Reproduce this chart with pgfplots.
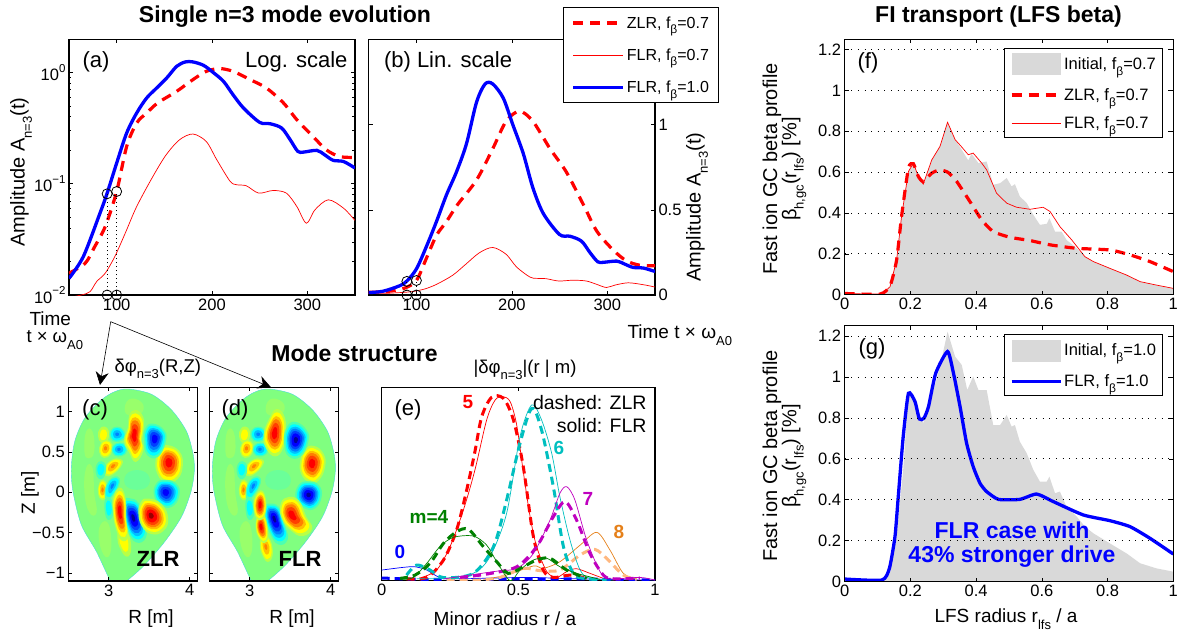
\documentclass[border=0pt]{standalone}
\usepackage{pgfplots}
\usepackage{pgfplotstable}
\pgfplotsset{compat=1.18}
\usepackage{fontspec}
\setmainfont{Liberation Sans}
\usetikzlibrary{arrows.meta}
\newcommand{\fs}[1]{\fontsize{#1}{#1}\selectfont}
\newcommand{\sub}[2][12]{\raisebox{-.36em}{\fs{#1}#2}}
\newcommand{\spw}[1]{\raisebox{.5em}{\fs{11.5}#1}}
\definecolor{gc}{rgb}{.85,.85,.85}
\definecolor{h1}{rgb}{.72,1,.28}\definecolor{h2}{rgb}{1,1,0}\definecolor{h3}{rgb}{1,.75,0}
\definecolor{h4}{rgb}{1,.5,0}\definecolor{h5}{rgb}{1,.25,0}\definecolor{h6}{rgb}{1,0,0}\definecolor{h7}{rgb}{.6,0,0}
\definecolor{c1}{rgb}{.3,1,.7}\definecolor{c2}{rgb}{0,1,1}\definecolor{c3}{rgb}{0,.75,1}
\definecolor{c4}{rgb}{0,.5,1}\definecolor{c5}{rgb}{0,.25,1}\definecolor{c6}{rgb}{0,0,1}\definecolor{c7}{rgb}{0,0,.6}
\definecolor{bgj}{rgb}{.5,1,.5}\definecolor{cy}{rgb}{0,.75,.75}\definecolor{pu}{rgb}{.75,0,.75}
\definecolor{fh}{rgb}{.6,1,.42}\definecolor{fc}{rgb}{.42,1,.6}\definecolor{edge}{rgb}{.3,.85,.85}
\definecolor{gr}{rgb}{0,.5,0}\definecolor{ors}{rgb}{.9,.5,.1}\definecolor{ord}{rgb}{1,.72,.5}
% one contour level of a blob: colour, scale, centre R, centre Z, contour
\newcommand{\lev}[5]{\addplot[draw=none,fill=#1,smooth cycle,tension=.8,
  x filter/.expression={#3+#2*(x-(#3))},y filter/.expression={#4+#2*(y-(#4))}] coordinates {#5};}
\newcommand{\hotX}[3]{\lev{h1}{1.16}{#1}{#2}{#3}\lev{h2}{1}{#1}{#2}{#3}\lev{h3}{.85}{#1}{#2}{#3}\lev{h4}{.72}{#1}{#2}{#3}\lev{h5}{.58}{#1}{#2}{#3}\lev{h6}{.42}{#1}{#2}{#3}\lev{h7}{.2}{#1}{#2}{#3}}
\newcommand{\hotL}[3]{\lev{h1}{1.16}{#1}{#2}{#3}\lev{h2}{1}{#1}{#2}{#3}\lev{h3}{.82}{#1}{#2}{#3}\lev{h4}{.68}{#1}{#2}{#3}\lev{h5}{.5}{#1}{#2}{#3}\lev{h6}{.3}{#1}{#2}{#3}}
\newcommand{\hotM}[3]{\lev{h1}{1.16}{#1}{#2}{#3}\lev{h2}{.95}{#1}{#2}{#3}\lev{h3}{.62}{#1}{#2}{#3}\lev{h4}{.28}{#1}{#2}{#3}}
\newcommand{\hotS}[3]{\lev{h1}{1.16}{#1}{#2}{#3}\lev{h2}{.75}{#1}{#2}{#3}}
\newcommand{\colX}[3]{\lev{c1}{1.16}{#1}{#2}{#3}\lev{c2}{1}{#1}{#2}{#3}\lev{c3}{.85}{#1}{#2}{#3}\lev{c4}{.72}{#1}{#2}{#3}\lev{c5}{.58}{#1}{#2}{#3}\lev{c6}{.42}{#1}{#2}{#3}\lev{c7}{.2}{#1}{#2}{#3}}
\newcommand{\colL}[3]{\lev{c1}{1.16}{#1}{#2}{#3}\lev{c2}{1}{#1}{#2}{#3}\lev{c3}{.82}{#1}{#2}{#3}\lev{c4}{.68}{#1}{#2}{#3}\lev{c5}{.5}{#1}{#2}{#3}\lev{c6}{.3}{#1}{#2}{#3}}
\newcommand{\colM}[3]{\lev{c1}{1.16}{#1}{#2}{#3}\lev{c2}{.95}{#1}{#2}{#3}\lev{c3}{.62}{#1}{#2}{#3}\lev{c4}{.28}{#1}{#2}{#3}}
\newcommand{\colS}[3]{\lev{c1}{1.16}{#1}{#2}{#3}\lev{c2}{.75}{#1}{#2}{#3}}
\newcommand{\vessel}{\addplot[draw=edge,line width=.4pt,fill=bgj,smooth cycle,tension=.5] coordinates {
 (3.240,1.279)(3.529,1.213)(3.777,1.019)(3.963,.751)(4.045,.462)(4.058,.256)(4.017,.008)(3.901,-.301)(3.694,-.610)(3.446,-.899)(3.240,-1.085)(3.085,-1.2)(3.012,-1.085)(2.847,-.734)(2.661,-.404)(2.558,.008)(2.537,.297)(2.579,.627)(2.702,.916)(2.909,1.143)(3.074,1.246)};}
% faint structure and the small inner blobs common to (c) and (d)
\newcommand{\faint}{%
 \lev{fh}{1}{3.3}{1.05}{(3.25,1.15)(3.4,1.12)(3.42,1.0)(3.3,.95)(3.2,1.0)}
 \lev{fh}{1}{2.75}{.05}{(2.72,.3)(2.8,.3)(2.82,0)(2.85,-.25)(2.76,-.25)(2.7,0)}
 \lev{fh}{1}{2.95}{-.55}{(2.9,-.4)(3.0,-.4)(3.03,-.7)(2.96,-.8)(2.88,-.6)}
 \lev{fc}{1}{3.35}{.15}{(3.25,.25)(3.45,.25)(3.5,.1)(3.35,.03)(3.2,.1)}
 \lev{fh}{1}{2.75}{.6}{(2.72,.75)(2.8,.75)(2.82,.5)(2.75,.42)(2.7,.5)}
}
\newcommand{\blobsShared}{%
 \hotS{2.930}{.709}{(2.942,.800)(2.992,.751)(2.975,.648)(2.909,.627)(2.876,.701)(2.893,.771)}
 \hotM{2.959}{.545}{(2.971,.635)(3.033,.586)(3.017,.483)(2.942,.441)(2.893,.503)(2.909,.594)}
 \hotM{3.054}{.326}{(3.136,.400)(3.149,.338)(3.054,.235)(2.971,.223)(2.959,.297)(3.033,.388)}
 \hotM{2.922}{.029}{(2.930,.140)(2.975,.070)(2.967,-.033)(2.917,-.083)(2.876,-.012)(2.884,.091)}
 \colM{3.103}{.718}{(3.103,.800)(3.178,.759)(3.190,.676)(3.095,.635)(3.033,.676)(3.033,.759)}
 \colM{3.124}{.532}{(3.136,.606)(3.207,.565)(3.198,.483)(3.116,.454)(3.058,.491)(3.058,.565)}
 \colS{2.901}{.289}{(2.909,.371)(2.959,.318)(2.942,.214)(2.884,.181)(2.847,.256)(2.859,.338)}
 \colM{3.045}{.083}{(3.095,.181)(3.124,.111)(3.058,-.012)(2.992,-.074)(2.963,.008)(3.004,.132)}
 \colS{3.0}{-.190}{(3.004,-.074)(3.045,-.157)(3.041,-.280)(2.992,-.322)(2.959,-.239)(2.959,-.115)}
}
% time traces (a), (b): t, amplitude
\pgfplotstableread{
t A
50 .0141
65 .0221
82.5 .0543
90 .0820
100 .153
110.5 .285
121 .431
131.5 .588
142 .723
152.5 .889
163 1.132
172 1.239
180 1.239
191 1.156
201 1.0
212 .830
222 .630
233 .478
250 .355
261 .345
273 .316
282 .248
290 .195
296 .192
310 .199
318 .182
327 .162
338 .158
350 .138
}\flrone
\pgfplotstableread{
t A
50 .0157
67 .0193
77 .0272
88 .0412
100 .085
110.5 .216
121 .350
131.5 .431
143 .530
163 .675
180 .859
194 1.02
208 1.079
222 1.02
240 .859
257 .723
275 .530
289 .375
306 .265
320 .201
334 .175
350 .172
}\zlr
\pgfplotstableread{
t A
50 .0095
63 .0100
72 .0107
79 .0132
88 .0157
98 .0221
109 .0359
121 .0623
138 .116
152 .182
166 .248
180 .279
194 .239
205 .164
219 .105
226 .0977
236 .0957
249 .0822
264 .0868
278 .0822
289 .0623
299 .0441
308 .0582
322 .0716
338 .0602
350 .0467
}\flrseven
% fast-ion profiles (f), (g)
\pgfplotstableread{
r b
0 .005
.113 .003
.138 .039
.158 .170
.173 .383
.194 .603
.209 .644
.224 .579
.239 .541
.265 .660
.290 .726
.313 .844
.336 .759
.356 .710
.376 .657
.386 .690
.407 .644
.432 .652
.452 .538
.473 .546
.493 .571
.508 .530
.518 .541
.533 .481
.554 .448
.574 .391
.594 .342
.615 .347
.623 .374
.640 .309
.660 .309
.675 .268
.706 .227
.731 .186
.757 .162
.807 .129
.858 .096
.899 .064
.949 .047
1 .031
}\initf
\pgfplotstableread{
r b
0 .006
.107 .003
.138 .043
.158 .170
.173 .383
.194 .620
.209 .641
.224 .579
.239 .554
.265 .595
.290 .611
.315 .598
.341 .554
.381 .456
.417 .366
.452 .309
.503 .281
.564 .265
.625 .244
.706 .227
.807 .219
.868 .195
.929 .162
1 .113
}\zlrf
\pgfplotstableread{
r b
0 .005
.113 .003
.138 .039
.158 .170
.173 .383
.194 .603
.209 .644
.224 .579
.239 .541
.265 .660
.290 .726
.313 .844
.336 .759
.356 .723
.376 .685
.391 .693
.417 .644
.432 .611
.462 .497
.493 .448
.523 .428
.564 .418
.604 .428
.625 .407
.655 .333
.691 .268
.731 .186
.757 .162
.807 .129
.858 .096
.899 .064
.949 .047
1 .031
}\flrf
\pgfplotstableread{
r b
0 .005
.113 .005
.138 .041
.158 .220
.178 .546
.194 .920
.214 .879
.239 .774
.265 .904
.290 1.050
.313 1.221
.336 1.099
.356 1.059
.373 .936
.391 1.002
.407 .936
.432 .936
.452 .765
.473 .765
.493 .814
.508 .757
.518 .765
.533 .684
.554 .627
.574 .546
.594 .489
.615 .489
.623 .513
.640 .432
.655 .440
.675 .366
.706 .318
.731 .269
.757 .236
.807 .187
.858 .138
.899 .090
.949 .065
1 .049
}\initg
\pgfplotstableread{
r b
0 .013
.113 .008
.136 .065
.153 .220
.163 .415
.178 .708
.194 .920
.214 .879
.227 .795
.241 .798
.255 .855
.277 1.018
.313 1.124
.331 1.018
.351 .855
.371 .676
.391 .562
.412 .480
.432 .440
.468 .402
.533 .402
.584 .428
.635 .391
.726 .326
.807 .298
.868 .269
.929 .212
1 .135
}\flrg
\pgfplotsset{base/.style={scale only axis,anchor=south west,
  axis line style={line width=1.1pt},every tick/.style={black,line width=.6pt},
  major tick length=4pt,minor tick length=2.5pt,
  tick label style={font=\fs{16.5}},
  legend cell align=left},
  dotv/.style={black,line width=.8pt,dash pattern=on .8pt off 3.2pt}}
\begin{document}
\begin{tikzpicture}[x=1pt,y=-1pt]
\path[use as bounding box] (0,0) rectangle (1179,639);
% ---------- (a)
\begin{axis}[base,at={(69pt,-295pt)},width=286pt,height=255.5pt,xmin=50,xmax=350,ymode=log,ymin=.01,ymax=1.97,
  clip mode=individual,xtick={100,200,300},xticklabels={100,200,300},
  ytick={.01,.1,1},yticklabels={10\spw{−2},10\spw{−1},10\spw{0}}]
\addplot[red,line width=3.2pt,dash pattern=on 10pt off 7pt,smooth] table[x=t,y=A] {\zlr};
\addplot[red,line width=.7pt,smooth] table[x=t,y=A] {\flrseven};
\addplot[blue,line width=3.3pt,smooth] table[x=t,y=A] {\flrone};
\addplot[dotv] coordinates {(90,.01)(90,.081)};
\addplot[dotv] coordinates {(100,.01)(100,.085)};
\addplot[only marks,mark=o,mark size=5pt,mark options={black,line width=.8pt}] coordinates {(90,.081)(100,.085)(90,.01)(100,.01)};
\end{axis}
% ---------- (b)
\begin{axis}[base,at={(368.7pt,-295pt)},width=286.3pt,height=255.5pt,xmin=50,xmax=350,ymin=0,ymax=1.5,
  clip mode=individual,xtick={100,200,300},xticklabels={100,200,300},
  ytick={0,.5,1},yticklabels={0,0.5,1},yticklabel pos=right,
  legend image code/.code={\draw[#1] (0pt,0pt) -- (50pt,0pt);},
  legend style={at={(.679,1.127)},anchor=north west,draw=black,line width=1pt,fill=white,font=\fs{16},row sep=15pt,inner xsep=8pt,inner ysep=7pt}]
\addplot[red,line width=3.2pt,dash pattern=on 10pt off 7pt,smooth] table[x=t,y=A] {\zlr};
\addlegendentry{ZLR, f\sub{β}=0.7}
\addplot[red,line width=.7pt,smooth] table[x=t,y=A] {\flrseven};
\addlegendentry{FLR, f\sub{β}=0.7}
\addplot[blue,line width=3.3pt,smooth] table[x=t,y=A] {\flrone};
\addlegendentry{FLR, f\sub{β}=1.0}
\addplot[forget plot,dotv] coordinates {(90,0)(90,.08)};
\addplot[forget plot,dotv] coordinates {(100,0)(100,.085)};
\addplot[forget plot,only marks,mark=o,mark size=5pt,mark options={black,line width=.8pt}] coordinates {(90,.08)(100,.085)(90,0)(100,0)};
\end{axis}
% ---------- (c)
\begin{axis}[base,at={(68.3pt,-581pt)},width=129.4pt,height=193.7pt,xmin=2.5,xmax=4.1,ymin=-1.1,ymax=1.3,
  xtick={3,4},xticklabels={3,4},ytick={-1,-.5,0,.5,1},yticklabels={−1,−0.5,0,0.5,1},axis on top]
\vessel
\faint
\blobsShared
\hotS{3.182}{-.631}{(3.149,-.507)(3.231,-.528)(3.264,-.693)(3.219,-.776)(3.149,-.693)(3.116,-.569)}
\hotL{3.314}{.709}{(3.331,.978)(3.413,.895)(3.413,.751)(3.396,.648)(3.413,.545)(3.331,.421)(3.260,.524)(3.207,.648)(3.248,.792)(3.260,.916)}
\hotL{3.743}{.371}{(3.735,.553)(3.859,.483)(3.892,.338)(3.838,.194)(3.714,.153)(3.620,.248)(3.603,.400)(3.653,.512)}
\colL{3.570}{.668}{(3.549,.825)(3.673,.751)(3.686,.627)(3.603,.470)(3.487,.491)(3.454,.648)(3.467,.771)}
\colL{3.702}{0}{(3.694,.132)(3.818,.091)(3.851,-.033)(3.768,-.157)(3.653,-.136)(3.579,-.033)(3.603,.091)}
\colX{3.301}{-.314}{(3.260,-.107)(3.363,-.165)(3.425,-.363)(3.438,-.528)(3.331,-.578)(3.240,-.446)(3.198,-.260)(3.198,-.136)}
\hotL{3.136}{-.239}{(3.136,.016)(3.198,-.095)(3.206,-.322)(3.223,-.507)(3.157,-.549)(3.095,-.425)(3.066,-.260)(3.066,-.095)}
\hotX{3.520}{-.289}{(3.487,-.107)(3.632,-.165)(3.706,-.322)(3.653,-.454)(3.529,-.487)(3.425,-.404)(3.388,-.260)(3.413,-.149)}
\end{axis}
% ---------- (d)
\begin{axis}[base,at={(209.3pt,-581pt)},width=129.4pt,height=193.7pt,xmin=2.5,xmax=4.1,ymin=-1.1,ymax=1.3,
  xtick={3,4},xticklabels={3,4},ytick={-1,-.5,0,.5,1},yticklabels={},axis on top]
\vessel
\faint
\blobsShared
\hotM{3.198}{-.672}{(3.157,-.569)(3.240,-.590)(3.273,-.755)(3.219,-.837)(3.157,-.755)(3.136,-.652)}
\hotL{3.306}{.730}{(3.331,.99)(3.417,.895)(3.421,.71)(3.396,.565)(3.314,.483)(3.219,.565)(3.190,.71)(3.248,.883)}
\hotL{3.768}{.359}{(3.785,.545)(3.892,.462)(3.909,.318)(3.838,.173)(3.744,.153)(3.653,.248)(3.645,.388)(3.694,.503)}
\colX{3.570}{.648}{(3.562,.841)(3.686,.751)(3.702,.627)(3.620,.470)(3.496,.470)(3.446,.606)(3.467,.771)}
\colX{3.727}{-.033}{(3.727,.111)(3.838,.070)(3.867,-.054)(3.797,-.177)(3.686,-.177)(3.591,-.074)(3.620,.070)}
\colX{3.301}{-.322}{(3.248,-.165)(3.355,-.206)(3.413,-.384)(3.446,-.549)(3.343,-.602)(3.248,-.466)(3.198,-.301)(3.207,-.198)}
\hotL{3.136}{-.425}{(3.107,-.301)(3.178,-.313)(3.215,-.487)(3.198,-.590)(3.136,-.577)(3.083,-.446)}
\hotL{3.128}{-.157}{(3.136,0)(3.190,-.095)(3.182,-.260)(3.116,-.322)(3.066,-.239)(3.066,-.095)}
\hotL{3.512}{-.281}{(3.467,-.095)(3.591,-.124)(3.674,-.301)(3.736,-.425)(3.632,-.507)(3.508,-.446)(3.413,-.322)(3.397,-.177)}
\end{axis}
% ---------- (e)
\begin{axis}[base,at={(381.7pt,-580.7pt)},width=273.3pt,height=193.4pt,xmin=0,xmax=1,ymin=0,ymax=1,
  xtick={0,.5,1},xticklabels={0,0.5,1},ytick=\empty]
\addplot[blue,line width=.7pt,smooth] coordinates {(0,.055)(.079,.069)(.122,.072)(.165,.055)(.213,.017)(.287,.010)(.530,.017)(.701,.01)(1,.003)};
\addplot[blue,line width=3pt,dash pattern=on 8pt off 5pt] coordinates {(0,.014)(.1,.008)(.3,.005)(.506,.010)(.604,.007)(.701,.010)(1,.003)};
\addplot[ors,line width=.7pt,smooth] coordinates {(.372,.007)(.457,.029)(.555,.076)(.591,.064)(.652,.098)(.726,.184)(.787,.250)(.835,.159)(.884,.038)(.933,.007)};
\addplot[ord,line width=3pt,dash pattern=on 8pt off 5pt,smooth] coordinates {(.238,.007)(.348,.003)(.433,.017)(.518,.064)(.579,.052)(.652,.055)(.726,.133)(.780,.162)(.829,.107)(.884,.029)(.933,.007)};
\addplot[red,line width=.7pt,smooth] coordinates {(.146,.017)(.201,.055)(.25,.176)(.299,.366)(.341,.572)(.384,.831)(.415,.934)(.443,.952)(.470,.926)(.494,.805)(.518,.564)(.543,.331)(.567,.176)(.604,.047)(.640,.017)(.677,.047)(.713,.062)(.762,.038)(.811,.012)};
\addplot[red,line width=3pt,dash pattern=on 8pt off 5pt,smooth] coordinates {(.091,.010)(.165,.017)(.226,.107)(.274,.262)(.311,.469)(.341,.667)(.366,.848)(.402,.948)(.445,.943)(.482,.831)(.518,.590)(.555,.228)(.591,.055)(.628,.017)(.689,.029)(.750,.012)};
\addplot[cy,line width=.7pt,smooth] coordinates {(.128,.010)(.226,.012)(.335,.038)(.396,.124)(.457,.348)(.506,.745)(.549,.909)(.585,.831)(.622,.659)(.652,.434)(.689,.210)(.726,.055)(.762,.012)(.848,.003)};
\addplot[cy,line width=3pt,dash pattern=on 8pt off 5pt,smooth] coordinates {(.091,.029)(.128,.081)(.177,.055)(.226,.016)(.335,.038)(.409,.176)(.457,.417)(.506,.710)(.549,.891)(.585,.779)(.628,.486)(.665,.176)(.701,.038)(.738,.012)(.823,.003)};
\addplot[pu,line width=.7pt,smooth] coordinates {(.226,.009)(.409,.047)(.494,.064)(.555,.141)(.616,.314)(.652,.452)(.677,.486)(.707,.417)(.750,.210)(.799,.047)(.835,.010)(.945,.017)(1,.003)};
\addplot[pu,line width=3pt,dash pattern=on 8pt off 5pt,smooth] coordinates {(.287,.017)(.384,.034)(.494,.072)(.567,.176)(.628,.331)(.671,.409)(.713,.314)(.762,.141)(.811,.029)(.848,.010)(.945,.014)};
\addplot[gr,line width=.7pt,smooth] coordinates {(.073,.007)(.116,.017)(.165,.090)(.213,.176)(.262,.224)(.335,.231)(.384,.184)(.421,.098)(.470,0)(.506,.055)(.555,.107)(.604,.116)(.652,.072)(.713,.038)(.799,.007)};
\addplot[gr,line width=3pt,dash pattern=on 8pt off 5pt,smooth] coordinates {(.067,.012)(.122,.029)(.177,.090)(.226,.193)(.274,.253)(.317,.266)(.372,.176)(.421,.098)(.463,.038)(.518,.072)(.567,.107)(.616,.116)(.677,.055)(.750,.012)};
\end{axis}
% ---------- (f)
\begin{axis}[base,at={(844.7pt,-294.7pt)},width=328.6pt,height=255.4pt,xmin=0,xmax=1,ymin=0,ymax=1.25,
  xtick={0,.2,.4,.6,.8,1},xticklabels={0,0.2,0.4,0.6,0.8,1},ytick={0,.2,.4,.6,.8,1,1.2},yticklabels={0,0.2,0.4,0.6,0.8,1,1.2},
  ymajorgrids,grid style={black,line width=.7pt,dash pattern=on .9pt off 5.7pt},axis on top,
  legend image code/.code={\draw[#1] (0pt,0pt) -- (49pt,0pt);},
  legend style={at={(.486,.967)},anchor=north west,draw=black,line width=1pt,fill=white,font=\fs{16.5},row sep=11pt,inner xsep=5pt,inner ysep=5pt}]
\addplot[fill=gc,draw=none,legend image code/.code={\fill[gc] (0pt,-11pt) rectangle (49pt,11pt);}] table[x=r,y=b] {\initf} \closedcycle;
\addlegendentry{Initial, f\sub{β}=0.7}
\addplot[red,line width=3.2pt,dash pattern=on 10pt off 7pt,smooth,tension=.35] table[x=r,y=b] {\zlrf};
\addlegendentry{ZLR, f\sub{β}=0.7}
\addplot[red,line width=.7pt] table[x=r,y=b] {\flrf};
\addlegendentry{FLR, f\sub{β}=0.7}
\end{axis}
% ---------- (g)
\begin{axis}[base,at={(844.7pt,-581.7pt)},width=328.6pt,height=256pt,xmin=0,xmax=1,ymin=0,ymax=1.25,
  xtick={0,.2,.4,.6,.8,1},xticklabels={0,0.2,0.4,0.6,0.8,1},ytick={0,.2,.4,.6,.8,1,1.2},yticklabels={0,0.2,0.4,0.6,0.8,1,1.2},
  ymajorgrids,grid style={black,line width=.7pt,dash pattern=on .9pt off 5.7pt},axis on top,
  legend image code/.code={\draw[#1] (0pt,0pt) -- (49pt,0pt);},
  legend style={at={(.486,.967)},anchor=north west,draw=black,line width=1pt,fill=white,font=\fs{16.5},row sep=11pt,inner xsep=5pt,inner ysep=5pt}]
\addplot[fill=gc,draw=none,legend image code/.code={\fill[gc] (0pt,-11pt) rectangle (49pt,11pt);}] table[x=r,y=b] {\initg} \closedcycle;
\addlegendentry{Initial, f\sub{β}=1.0}
\addplot[blue,line width=3.3pt,smooth,tension=.35] table[x=r,y=b] {\flrg};
\addlegendentry{FLR, f\sub{β}=1.0}
\end{axis}
% ---------- arrows
\draw[black,line width=.6pt,-{Stealth[length=13pt,width=13pt]}] (110.7,321.7) -- (100,385);
\draw[black,line width=.6pt,-{Stealth[length=13pt,width=13pt]}] (110.7,321.7) -- (271,387.3);
% ---------- text
\node[font=\bfseries\fs{23}] at (285,17) {Single n=3 mode evolution};
\node[font=\bfseries\fs{23}] at (354.5,353) {Mode structure};
\node[font=\bfseries\fs{23}] at (998.5,17) {FI transport (LFS beta)};
\node[font=\fs{22}] at (96,62) {(a)};
\node[font=\fs{22},anchor=east] at (351,62) {Log. scale};
\node[font=\fs{22},anchor=west] at (380.5,62) {(b) Lin. scale};
\node[font=\fs{22}] at (95,410) {(c)};
\node[font=\fs{22}] at (235,410) {(d)};
\node[font=\fs{22}] at (408,410) {(e)};
\node[font=\fs{22}] at (868,63) {(f)};
\node[font=\fs{22}] at (872,349) {(g)};
\node[font=\bfseries\fs{22}] at (158,559) {ZLR};
\node[font=\bfseries\fs{22}] at (300,559) {FLR};
\node[font=\fs{20},rotate=90] at (21,172) {Amplitude A\sub[13]{n=3}(t)};
\node[font=\fs{20},rotate=90] at (697,207) {Amplitude A\sub[13]{n=3}(t)};
\node[font=\fs{19},anchor=west] at (26,319) {Time};
\node[font=\fs{18.5},anchor=west] at (23,340) {t × ω\sub[13]{A0}};
\node[font=\fs{19},anchor=west] at (624,335) {Time t × ω\sub[13]{A0}};
\node[font=\fs{18.5},anchor=west] at (111,369) {δφ\sub[13]{n=3}(R,Z)};
\node[font=\fs{18.5}] at (525,370) {|δφ\sub[13]{n=3}|(r | m)};
\node[font=\fs{19},rotate=90] at (30,493) {Z [m]};
\node[font=\fs{19}] at (151,619) {R [m]};
\node[font=\fs{19}] at (292,619) {R [m]};
\node[font=\fs{19}] at (505,619) {Minor radius r / a};
\node[font=\fs{19.5},anchor=east] at (650,403) {dashed: ZLR};
\node[font=\fs{19.5},anchor=east] at (650,426) {solid: FLR};
\node[font=\bfseries\fs{19},text=red] at (468,402) {5};
\node[font=\bfseries\fs{19},text=cy] at (559,448) {6};
\node[font=\bfseries\fs{19},text=pu] at (588,499) {7};
\node[font=\bfseries\fs{19},text=ors] at (619,532) {8};
\node[font=\bfseries\fs{19},text=gr] at (429,517) {m=4};
\node[font=\bfseries\fs{19},text=blue] at (400,552) {0};
\node[font=\fs{20},rotate=90] at (772,169) {Fast ion GC beta profile};
\node[font=\fs{20},rotate=90] at (794,169) {β\sub[13]{h,gc}(r\sub[13]{lfs}) [\%]};
\node[font=\fs{20},rotate=90] at (772,456) {Fast ion GC beta profile};
\node[font=\fs{20},rotate=90] at (794,456) {β\sub[13]{h,gc}(r\sub[13]{lfs}) [\%]};
\node[font=\fs{19}] at (1006,619) {LFS radius r\sub[13]{lfs} / a};
\node[font=\bfseries\fs{23},text=blue] at (1012,530) {FLR case with};
\node[font=\bfseries\fs{23},text=blue] at (1012,557) {43\% stronger drive};
\end{tikzpicture}
\end{document}
